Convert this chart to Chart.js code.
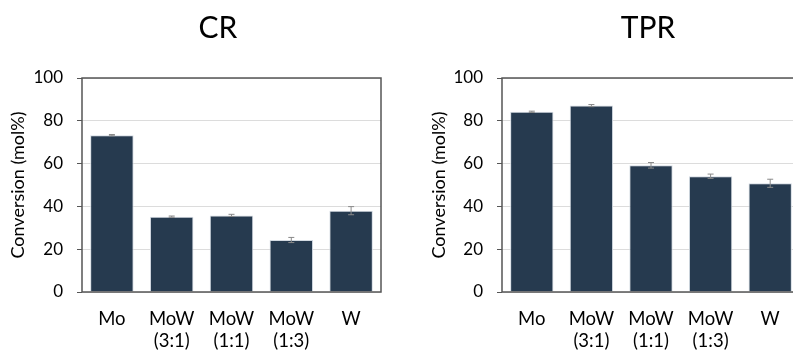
<!DOCTYPE html>
<html>
<head>
<meta charset="utf-8">
<script src="https://cdn.jsdelivr.net/npm/chart.js@4.4.1/dist/chart.umd.min.js"></script>
<style>
  html, body { margin: 0; padding: 0; background: #fff; }
  #wrap { position: relative; width: 793px; height: 351px; overflow: hidden; background: #fff; }
  canvas { position: absolute; top: 0; }
  #cr { left: 0; }
  #tpr { left: 400px; }
</style>
</head>
<body>
<div id="wrap">
  <canvas id="cr" width="436" height="351"></canvas>
  <canvas id="tpr" width="496" height="351"></canvas>
</div>
<script>
// Catalysts compared in both panels
const categories = ['Mo', ['MoW', '(3:1)'], ['MoW', '(1:1)'], ['MoW', '(1:3)'], 'W'];

// Conversion (mol%) and standard deviations, CR panel
const crValues = [73.3, 35.2, 35.8, 24.3, 38.0];
const crErrors = [0.3, 0.3, 0.5, 1.2, 1.9];

// Conversion (mol%) and standard deviations, TPR panel
const tprValues = [84.2, 87.1, 59.2, 54.1, 50.8];
const tprErrors = [0.3, 0.5, 1.3, 1.0, 1.9];

// Value axis ticks
const yTicks = [0, 20, 40, 60, 80, 100];

const FONT = 'Lato, "Open Sans", sans-serif';
const BAR = '#263a4f';
const BAR_EDGE = '#d3dae2';
const FRAME = '#565656';
const GRID = '#dcdcdc';

// Box around the plotting area
const framePlugin = {
  id: 'frame',
  afterDatasetsDraw(chart) {
    const { ctx, chartArea: a } = chart;
    ctx.save();
    ctx.strokeStyle = FRAME;
    ctx.lineWidth = 1.5;
    ctx.strokeRect(a.left, a.top, a.right - a.left, a.bottom - a.top);
    ctx.restore();
  }
};

// Whiskers with small caps for each bar
const errorBarPlugin = {
  id: 'errorBars',
  afterDatasetsDraw(chart) {
    const { ctx } = chart;
    const yScale = chart.scales.y;
    chart.data.datasets.forEach((ds, di) => {
      const meta = chart.getDatasetMeta(di);
      meta.data.forEach((bar, i) => {
        const v = ds.data[i];
        const e = ds.errors[i];
        const yTop = yScale.getPixelForValue(v + e);
        const yBot = yScale.getPixelForValue(v - e);
        const x = bar.x;
        ctx.save();
        ctx.strokeStyle = '#8a8a8a';
        ctx.lineWidth = 1;
        ctx.beginPath();
        ctx.moveTo(x, yTop); ctx.lineTo(x, yBot);
        ctx.moveTo(x - 3, yTop); ctx.lineTo(x + 3, yTop);
        ctx.moveTo(x - 3, yBot); ctx.lineTo(x + 3, yBot);
        ctx.stroke();
        ctx.restore();
      });
    });
  }
};

function makePanel(id, title, values, errors, axisWidth, titleGap, rightGap) {
  return new Chart(document.getElementById(id), {
    type: 'bar',
    data: {
      labels: categories,
      datasets: [{
        data: values,
        errors: errors,
        backgroundColor: BAR,
        borderColor: BAR_EDGE,
        borderWidth: 1,
        barPercentage: 0.727,
        categoryPercentage: 1.0
      }]
    },
    options: {
      responsive: false,
      animation: false,
      events: [],
      layout: { padding: 0 },
      plugins: {
        legend: { display: false },
        tooltip: { enabled: false },
        title: {
          display: true,
          text: title,
          color: '#000',
          font: { family: FONT, size: 30, weight: 'normal', lineHeight: 1.2 },
          padding: { top: 10, bottom: 32 }
        }
      },
      scales: {
        x: {
          type: 'category',
          grid: { display: false, drawTicks: false },
          border: { display: false },
          ticks: {
            color: '#000',
            font: { family: FONT, size: 18.5, lineHeight: 1.2 },
            padding: 16,
            maxRotation: 0,
            autoSkip: false
          },
          afterFit(s) { s.height = 59; }
        },
        y: {
          type: 'linear',
          position: 'left',
          min: 0,
          max: 100,
          afterBuildTicks(s) { s.ticks = yTicks.map(v => ({ value: v })); },
          grid: { color: GRID, lineWidth: 1, tickColor: FRAME, tickLength: 5, drawTicks: true },
          border: { display: false },
          ticks: {
            color: '#000',
            font: { family: FONT, size: 17 },
            padding: 14
          },
          title: {
            display: true,
            text: 'Conversion (mol%)',
            color: '#000',
            font: { family: FONT, size: 18, lineHeight: 1.2 },
            padding: { top: titleGap, bottom: 0 }
          },
          afterFit(s) { s.width = axisWidth; }
        },
        gap: {
          type: 'linear',
          position: 'right',
          display: true,
          grid: { display: false, drawTicks: false },
          border: { display: false },
          ticks: { display: false },
          afterFit(s) { s.width = rightGap; }
        }
      }
    },
    plugins: [framePlugin, errorBarPlugin]
  });
}

makePanel('cr', 'CR', crValues, crErrors, 82, 7.2, 55);
makePanel('tpr', 'TPR', tprValues, tprErrors, 102, 28.2, 96);
</script>
</body>
</html>
